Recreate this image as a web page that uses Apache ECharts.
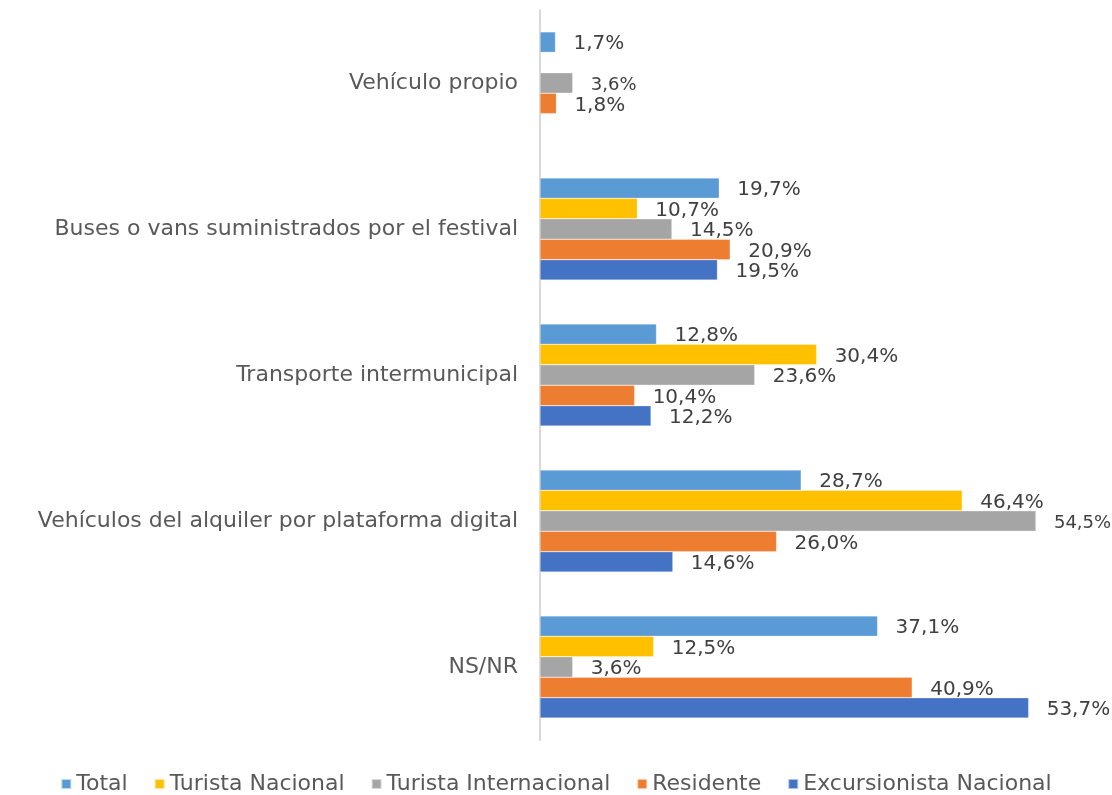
<!DOCTYPE html>
<html><head><meta charset="utf-8">
<script src="https://cdn.jsdelivr.net/npm/echarts@6/dist/echarts.min.js"></script>
<style>html,body{margin:0;padding:0;background:#fff}#c{width:1112px;height:795px}</style>
</head><body><div id="c"></div>
<script>
const categories = ["Vehículo propio", "Buses o vans suministrados por el festival", "Transporte intermunicipal", "Vehículos del alquiler por plataforma digital", "NS/NR"];
const seriesNames = ["Total", "Turista Nacional", "Turista Internacional", "Residente", "Excursionista Nacional"];
const total = [1.7, 19.7, 12.8, 28.7, 37.1];
const turistaNacional = [null, 10.7, 30.4, 46.4, 12.5];
const turistaInternacional = [3.6, 14.5, 23.6, 54.5, 3.6];
const residente = [1.8, 20.9, 10.4, 26.0, 40.9];
const excursionistaNacional = [null, 19.5, 12.2, 14.6, 53.7];
const colors = ["#5B9BD5", "#FFC000", "#A5A5A5", "#ED7D31", "#4472C4"];
const allData = [total, turistaNacional, turistaInternacional, residente, excursionistaNacional];
// smaller data labels in the reference (series index -> category indices)
const smallLabels = {2: [0, 3]};
const FONT = "DejaVu Sans";
const fmt = v => v.toFixed(1).replace('.', ',') + '%';
const chart = echarts.init(document.getElementById('c'));
chart.setOption({
  animation: false,
  color: colors,
  grid: {left: 540, right: 26, top: 10, bottom: 55},
  legend: {
    top: 768, left: 'center', itemWidth: 10, itemHeight: 10, itemGap: 26,
    icon: 'rect',
    textStyle: {color: '#595959', fontSize: 22, fontFamily: FONT},
    data: seriesNames
  },
  xAxis: {type: 'value', min: 0, max: 60, show: false, splitLine: {show: false}},
  yAxis: {
    type: 'category', data: categories, inverse: true,
    axisLine: {show: true, lineStyle: {color: '#D9D9D9', width: 2}},
    axisTick: {show: false},
    axisLabel: {color: '#595959', fontSize: 22, fontFamily: FONT, margin: 22}
  },
  series: seriesNames.map((n, i) => ({
    name: n, type: 'bar',
    data: allData[i].map((v, j) => (smallLabels[i] && smallLabels[i].includes(j))
      ? {value: v, label: {fontSize: 18}} : v),
    barGap: '0%', barCategoryGap: '30%',
    itemStyle: {color: colors[i], borderColor: 'rgba(255,255,255,0.6)', borderWidth: 0.5},
    label: {
      show: true, position: 'right', distance: 18, offset: [0, 2],
      color: '#404040', fontSize: 20, fontFamily: FONT,
      formatter: p => p.value == null ? '' : fmt(p.value)
    }
  }))
});
</script></body></html>
